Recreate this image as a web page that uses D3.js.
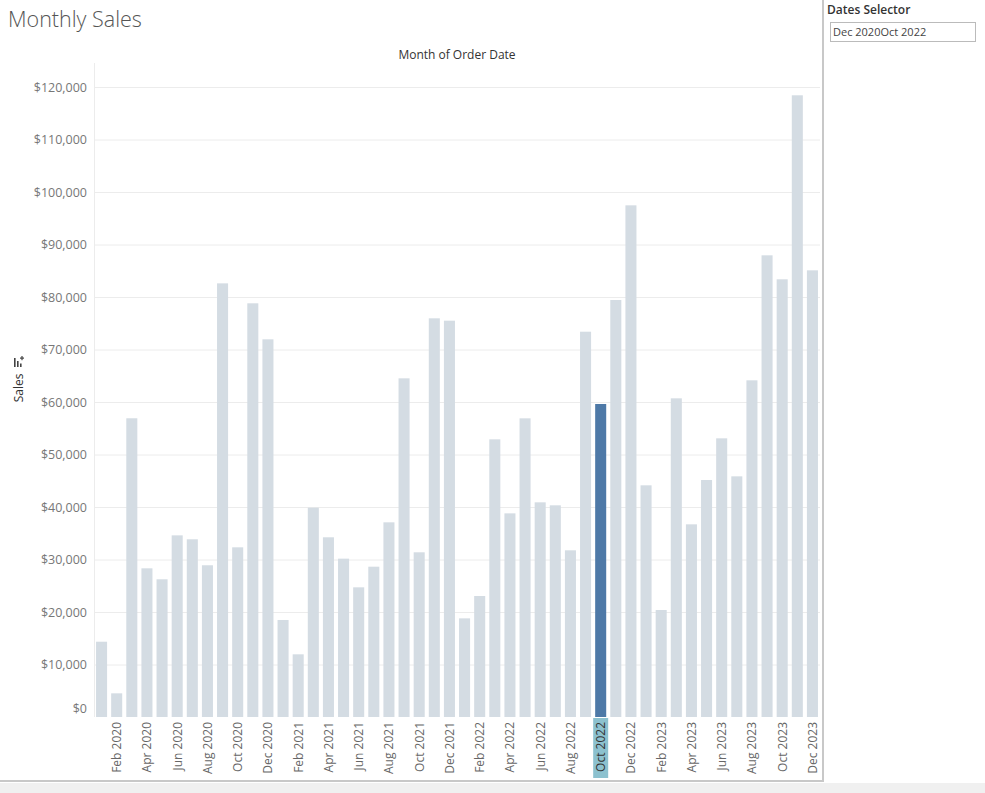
<!DOCTYPE html>
<html>
<head>
<meta charset="utf-8">
<script src="https://cdn.jsdelivr.net/npm/d3@7"></script>
<style>
  body { margin: 0; background: #fff; }
  svg { display: block; font-family: "Open Sans", "Lato", sans-serif; }
</style>
</head>
<body>
<svg id="chart" width="985" height="793"></svg>
<script>
const months = ["Jan 2020","Feb 2020","Mar 2020","Apr 2020","May 2020","Jun 2020","Jul 2020","Aug 2020","Sep 2020","Oct 2020","Nov 2020","Dec 2020",
  "Jan 2021","Feb 2021","Mar 2021","Apr 2021","May 2021","Jun 2021","Jul 2021","Aug 2021","Sep 2021","Oct 2021","Nov 2021","Dec 2021",
  "Jan 2022","Feb 2022","Mar 2022","Apr 2022","May 2022","Jun 2022","Jul 2022","Aug 2022","Sep 2022","Oct 2022","Nov 2022","Dec 2022",
  "Jan 2023","Feb 2023","Mar 2023","Apr 2023","May 2023","Jun 2023","Jul 2023","Aug 2023","Sep 2023","Oct 2023","Nov 2023","Dec 2023"];
const sales = [14340, 4510, 56900, 28320, 26230, 34600, 33850, 28900, 82600, 32320, 78800, 71940,
  18480, 11940, 39870, 34230, 30160, 24700, 28630, 37080, 64510, 31370, 75940, 75490,
  18790, 23050, 52890, 38790, 56890, 40890, 40320, 31750, 73390, 59620, 79430, 97460,
  44130, 20380, 60700, 36700, 45140, 53080, 45840, 64130, 87940, 83370, 118420, 85080];
const yTicks = [0, 10000, 20000, 30000, 40000, 50000, 60000, 70000, 80000, 90000, 100000, 110000, 120000];
const selectedMonth = "Oct 2022";
const selectorText = "Dec 2020Oct 2022";

const svg = d3.select("#chart");
const plotL = 94, plotR = 820, plotT = 63, plotB = 717;

// background bottom strip and panel borders
svg.append("rect").attr("x", 0).attr("y", 783).attr("width", 985).attr("height", 10).attr("fill", "#f0f0f0");
svg.append("line").attr("x1", 0).attr("x2", 824).attr("y1", 781).attr("y2", 781).attr("stroke", "#c8c8c8").attr("stroke-width", 2);
svg.append("line").attr("x1", 823).attr("x2", 823).attr("y1", 0).attr("y2", 782).attr("stroke", "#c8c8c8").attr("stroke-width", 2);

// title
svg.append("text").attr("x", 8).attr("y", 27).attr("font-size", 21.5).attr("font-weight", 300)
  .attr("fill", "#555").text("Monthly Sales");

// Dates selector
svg.append("text").attr("x", 827).attr("y", 14).attr("font-size", 12).attr("font-weight", 600)
  .attr("fill", "#333").text("Dates Selector");
svg.append("rect").attr("x", 830.5).attr("y", 22.5).attr("width", 145).attr("height", 19)
  .attr("fill", "#fff").attr("stroke", "#bbb");
svg.append("text").attr("x", 833).attr("y", 36).attr("font-size", 11).attr("fill", "#444").text(selectorText);

const x = d3.scaleBand().domain(months).range([plotL, plotR]).paddingInner(0.27).paddingOuter(0.135);
const y = d3.scaleLinear().domain([0, 120000]).range([plotB, 87]);

// gridlines
svg.append("g").selectAll("line").data(yTicks.filter(d => d > 0)).join("line")
  .attr("x1", plotL).attr("x2", plotR).attr("y1", d => y(d) + 0.5).attr("y2", d => y(d) + 0.5)
  .attr("stroke", "#ececec");
svg.append("line").attr("x1", plotL + 0.5).attr("x2", plotL + 0.5).attr("y1", plotT).attr("y2", plotB)
  .attr("stroke", "#ececec");

// y axis
const yAxis = svg.append("g").attr("transform", `translate(${plotL},0)`)
  .call(d3.axisLeft(y).tickValues(yTicks).tickSize(0).tickPadding(7).tickFormat(d => "$" + d3.format(",")(d)));
yAxis.select(".domain").remove();
yAxis.selectAll("text").attr("font-size", 12.5).attr("fill", "#777")
  .attr("font-family", "'Open Sans', Lato, sans-serif")
  .attr("dy", d => d === 0 ? "-0.4em" : "0.32em");

// axis titles
svg.append("text").attr("x", 457).attr("y", 59).attr("text-anchor", "middle").attr("font-size", 12)
  .attr("font-weight", 500).attr("fill", "#333").text("Month of Order Date");
svg.append("text").attr("transform", "translate(23,388) rotate(-90)").attr("text-anchor", "middle")
  .attr("font-size", 12).attr("font-weight", 500).attr("fill", "#333").text("Sales");
// sort icon (rotated bar icon)
const icon = svg.append("g").attr("fill", "#444");
icon.append("rect").attr("x", 14).attr("y", 358).attr("width", 1.6).attr("height", 9);
icon.append("rect").attr("x", 17).attr("y", 361).attr("width", 1.6).attr("height", 6);
icon.append("rect").attr("x", 20).attr("y", 363.5).attr("width", 1.6).attr("height", 3.5);
icon.append("rect").attr("x", 20).attr("y", 357.5).attr("width", 4).attr("height", 1.2);
icon.append("rect").attr("x", 21.4).attr("y", 356).attr("width", 1.2).attr("height", 4.2);

// bars
const data = months.map((m, i) => ({ month: m, value: sales[i] }));
svg.append("g").selectAll("rect").data(data).join("rect")
  .attr("x", d => x(d.month)).attr("width", x.bandwidth())
  .attr("y", d => y(d.value)).attr("height", d => y(0) - y(d.value))
  .attr("fill", d => d.month === selectedMonth ? "#4e79a7" : "#d4dce3");

// x labels
const labelMonths = months.filter((m, i) => i % 2 === 1);
const lbl = svg.append("g");
lbl.selectAll("rect").data(labelMonths.filter(m => m === selectedMonth)).join("rect")
  .attr("x", m => x(m) + x.bandwidth() / 2 - 7.5).attr("y", 718).attr("width", 15).attr("height", 60)
  .attr("fill", "#8cc1cf");
lbl.selectAll("text").data(labelMonths).join("text")
  .attr("transform", m => `translate(${x(m) + x.bandwidth() / 2 + 4.5},722) rotate(-90)`)
  .attr("text-anchor", "end").attr("font-size", 12).attr("fill", m => m === selectedMonth ? "#333" : "#666")
  .text(m => m);
</script>
</body>
</html>
